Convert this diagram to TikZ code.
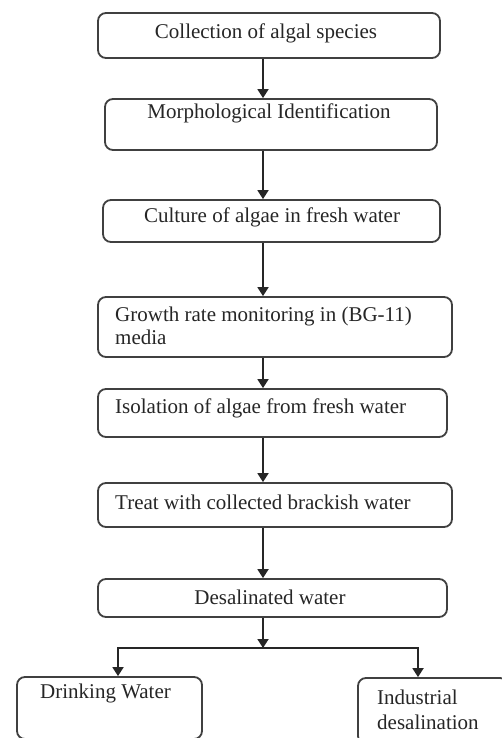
\documentclass[tikz,border=0pt]{standalone}
\usepackage{fontspec}
\setmainfont{Liberation Serif}
\usetikzlibrary{arrows.meta}
\begin{document}
\begin{tikzpicture}[x=1pt,y=-1pt,
  box/.style={draw=black!75, line width=1.8pt, rounded corners=8pt, inner sep=0pt},
  txt/.style={font=\fontsize{21}{23}\selectfont, inner sep=0pt, text=black!85},
  arr/.style={draw=black!85, line width=1.8pt, -{Triangle[length=9pt,width=11pt]}},
  ln/.style={draw=black!85, line width=1.8pt}]
\useasboundingbox (0,0) rectangle (502,738);
\fill[white] (0,0) rectangle (502,738);
% boxes
\node[box, minimum width=342pt, minimum height=45pt] (b1) at (269,35.5) {};
\node[box, minimum width=332pt, minimum height=51pt] (b2) at (271,124.5) {};
\node[box, minimum width=337pt, minimum height=42pt] (b3) at (271.5,221) {};
\node[box, minimum width=354pt, minimum height=60pt] (b4) at (275,327) {};
\node[box, minimum width=349pt, minimum height=48pt] (b5) at (272.5,413) {};
\node[box, minimum width=354pt, minimum height=44pt] (b6) at (275,505) {};
\node[box, minimum width=349pt, minimum height=38pt] (b7) at (272.5,598) {};
\node[box, minimum width=185pt, minimum height=62pt] (b8) at (109.5,708) {};
\node[box, minimum width=150pt, minimum height=66pt] (b9) at (433,711) {};
% texts
\node[txt] (t1) at (266,33) {Collection of algal species};
\node[txt] (t2) at (269,113) {Morphological Identification};
\node[txt] (t3) at (272,217) {Culture of algae in fresh water};
\node[txt, anchor=west, align=left] (t4) at (115,326) {Growth rate monitoring in (BG-11)\\media};
\node[txt, anchor=west] (t5) at (115,408) {Isolation of algae from fresh water};
\node[txt, anchor=west] (t6) at (115,502) {Treat with collected brackish water};
\node[txt] (t7) at (270,597) {Desalinated water};
\node[txt, anchor=west] (t8) at (40,693) {Drinking Water};
\node[txt, anchor=west, align=left, font=\fontsize{21}{25}\selectfont] (t9) at (377,709.5) {Industrial\\desalination};
% connectors
\coordinate (ax) at (263,0);
\coordinate (dlx) at (118,0);
\coordinate (irx) at (418,0);
\coordinate (j) at (263,648);
\draw[arr] (b1.south -| ax) -- (b2.north -| ax);
\draw[arr] (b2.south -| ax) -- (b3.north -| ax);
\draw[arr] (b3.south -| ax) -- (b4.north -| ax);
\draw[arr] (b4.south -| ax) -- (b5.north -| ax);
\draw[arr] (b5.south -| ax) -- (b6.north -| ax);
\draw[arr] (b6.south -| ax) -- (b7.north -| ax);
\draw[arr] (b7.south -| ax) -- (j);
\draw[arr] (j) -| (b8.north -| dlx);
\draw[arr] (j) -| (b9.north -| irx);
\end{tikzpicture}
\end{document}
